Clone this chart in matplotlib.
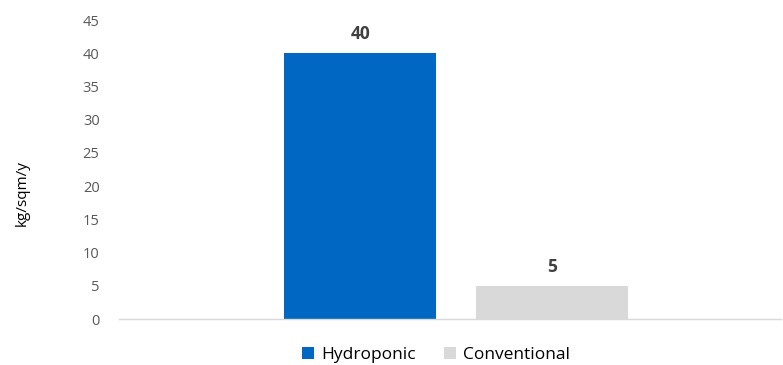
import matplotlib
matplotlib.use("Agg")
import matplotlib.pyplot as plt
import numpy as np

plt.rcParams['font.family'] = ['Open Sans', 'DejaVu Sans']

series = ["Hydroponic", "Conventional"]
values = [40, 5]
colors = ["#0068C2", "#D9D9D9"]
yticks = [0, 5, 10, 15, 20, 25, 30, 35, 40, 45]

fig = plt.figure(figsize=(7.83, 3.65), dpi=100)
ax = fig.add_axes([0.152, 0.126, 0.846, 0.819])

width = 0.23
offsets = [-0.136, 0.154]
for name, val, col, off in zip(series, values, colors, offsets):
    ax.bar(off, val, width=width, color=col, label=name)
    ax.text(off, val + 1.5, f"{val}", ha="center", va="bottom",
            fontsize=12.5, fontweight="bold", color="#404040")

ax.set_xlim(-0.5, 0.5)
ax.set_ylim(0, 45)
ax.set_yticks(yticks)
ax.set_xticks([])
ax.tick_params(axis="y", length=0, labelsize=10.5, labelcolor="#595959", pad=14)
for s in ["top", "right", "left"]:
    ax.spines[s].set_visible(False)
ax.spines["bottom"].set_color("#D9D9D9")
ax.spines["bottom"].set_linewidth(1)

fig.text(0.028, 0.47, "kg/sqm/y", rotation=90, ha="center", va="center",
         fontsize=11, color="#000000")

fig.legend(loc="center", bbox_to_anchor=(0.557, 0.028), ncol=2, frameon=False,
           fontsize=12.5, handlelength=0.7, handleheight=0.7, handletextpad=0.4,
           columnspacing=1.6, labelcolor="#000000")

fig.savefig("out.png", dpi=100)
